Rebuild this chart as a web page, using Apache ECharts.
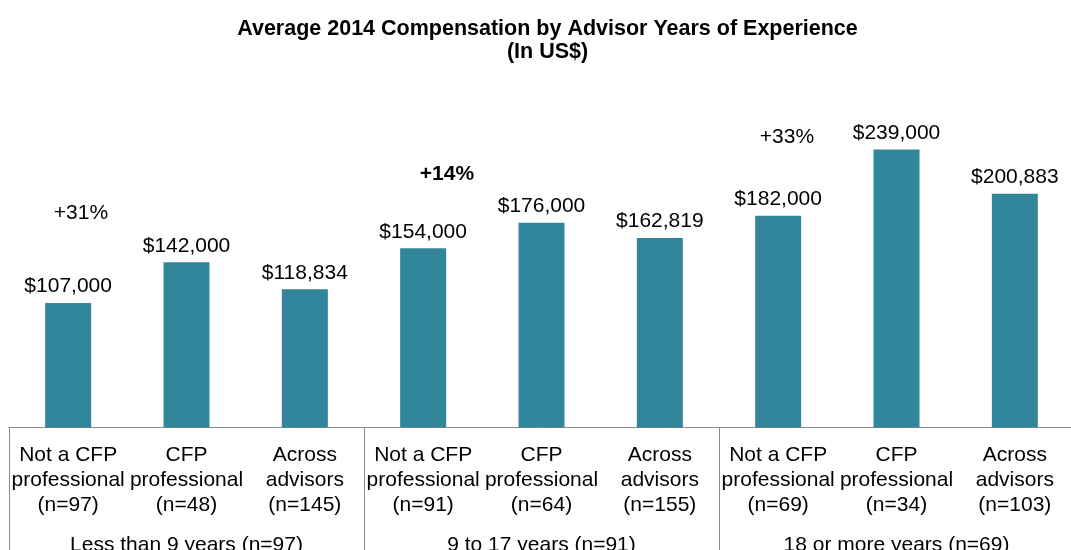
<!DOCTYPE html>
<html>
<head>
<meta charset="utf-8">
<script src="https://cdn.jsdelivr.net/npm/echarts@6/dist/echarts.min.js"></script>
<style>
html,body{margin:0;padding:0;background:#fff;}
#chart{width:1071px;height:550px;}
</style>
</head>
<body>
<div id="chart"></div>
<script>
var titleText = 'Average 2014 Compensation by Advisor Years of Experience\n(In US$)';
var categories = [
  'Not a CFP\nprofessional\n(n=97)', 'CFP\nprofessional\n(n=48)', 'Across\nadvisors\n(n=145)',
  'Not a CFP\nprofessional\n(n=91)', 'CFP\nprofessional\n(n=64)', 'Across\nadvisors\n(n=155)',
  'Not a CFP\nprofessional\n(n=69)', 'CFP\nprofessional\n(n=34)', 'Across\nadvisors\n(n=103)'
];
var groups = ['Less than 9 years (n=97)', '9 to 17 years (n=91)', '18 or more years (n=69)'];
var values = [107000, 142000, 118834, 154000, 176000, 162819, 182000, 239000, 200883];
var annotations = ['+31%', '+14%', '+33%'];

var FONT = '"Liberation Sans", Arial, sans-serif';
var chart = echarts.init(document.getElementById('chart'));
var option = {
  backgroundColor: '#fff',
  animation: false,
  title: {
    text: titleText,
    left: 547.5,
    textAlign: 'center',
    top: 18,
    padding: 0,
    textStyle: { fontFamily: FONT, fontSize: 21.5, fontWeight: 'bold', color: '#000', lineHeight: 23 }
  },
  grid: { left: 9, width: 1065, top: 78.5, bottom: 122.5, containLabel: false, outerBoundsMode: 'none' },
  xAxis: [
    {
      type: 'category',
      data: categories,
      position: 'bottom',
      axisLine: { show: true, lineStyle: { color: '#8c8c8c', width: 1 } },
      axisTick: { show: false },
      axisLabel: { interval: 0, margin: 15.5, fontFamily: FONT, fontSize: 21, lineHeight: 25, color: '#000' }
    },
    {
      type: 'category',
      data: groups,
      position: 'bottom',
      axisLine: { show: false },
      axisTick: { show: true, length: 130, lineStyle: { color: '#8c8c8c', width: 1 } },
      axisLabel: { interval: 0, margin: 107.5, fontFamily: FONT, fontSize: 21, color: '#000' }
    }
  ],
  yAxis: {
    type: 'value', min: 0, max: 300000, show: false, splitLine: { show: false }
  },
  series: [{
    type: 'bar',
    data: values,
    xAxisIndex: 0,
    barWidth: 46,
    itemStyle: { color: '#32869C' },
    label: {
      show: true, position: 'top', distance: 6,
      fontFamily: FONT, fontSize: 21, color: '#000',
      formatter: function (p) { return '$' + p.value.toLocaleString('en-US'); }
    }
  }],
  graphic: [
    { type: 'text', x: 81, y: 213, style: { text: annotations[0], fontFamily: FONT, fontSize: 21, fill: '#000', align: 'center', verticalAlign: 'middle' } },
    { type: 'text', x: 447, y: 174, style: { text: annotations[1], fontFamily: FONT, fontSize: 21, fontWeight: 'bold', fill: '#000', align: 'center', verticalAlign: 'middle' } },
    { type: 'text', x: 787, y: 137, style: { text: annotations[2], fontFamily: FONT, fontSize: 21, fill: '#000', align: 'center', verticalAlign: 'middle' } }
  ]
};
chart.setOption(option);
</script>
</body>
</html>
